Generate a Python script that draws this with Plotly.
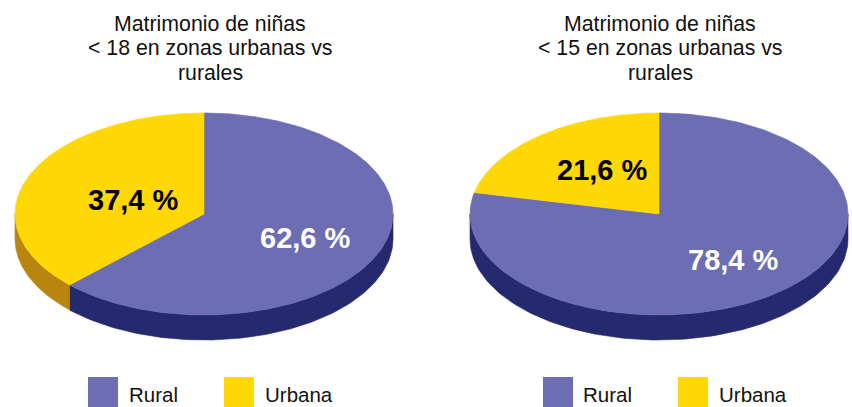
import numpy as np
import plotly.graph_objects as go

categories = ["Rural", "Urbana"]
values_18 = [62.6, 37.4]
values_15 = [78.4, 21.6]
labels_18 = ["62,6 %", "37,4 %"]
labels_15 = ["78,4 %", "21,6 %"]
title_18 = ["Matrimonio de niñas", "< 18 en zonas urbanas vs", "rurales"]
title_15 = ["Matrimonio de niñas", "< 15 en zonas urbanas vs", "rurales"]

TOP = {"Rural": "#6D6DB4", "Urbana": "#FFD805"}
SIDE = {"Rural": "#25296D", "Urbana": "#B8860F"}
LABEL = {"Rural": "white", "Urbana": "black"}
FONT = "Liberation Sans, Arial, sans-serif"
RX, RY, DEPTH, CY = 189, 101, 25, 214

fig = go.Figure()


def pt(cx, deg, dy=0.0):
    r = np.radians(deg)
    return cx + RX * np.sin(r), CY - RY * np.cos(r) + dy


def poly(xs, ys, color):
    fig.add_trace(go.Scatter(x=list(xs), y=list(ys), mode="lines", fill="toself",
                             fillcolor=color, line=dict(color=color, width=0.6),
                             hoverinfo="skip", showlegend=False))


def pie(cx, values, labels, title, label_pos, legend_x, legend_text_x, title_x):
    start = 0.0
    slices = []
    for cat, v in zip(categories, values):
        slices.append((cat, start, start + v * 3.6))
        start += v * 3.6
    # visible side wall (front half of the disc)
    for cat, a, b in slices:
        lo, hi = max(a, 90), min(b, 270)
        if hi > lo:
            t = np.linspace(lo, hi, 120)
            x, y = pt(cx, t)
            poly(np.r_[x, x[::-1], x[0]], np.r_[y, (y + DEPTH)[::-1], y[0]], SIDE[cat])
    # top face
    for cat, a, b in slices:
        t = np.linspace(a, b, 240)
        x, y = pt(cx, t)
        poly(np.r_[cx, x, cx], np.r_[CY, y, CY], TOP[cat])
    for lab, cat, (lx, ly) in zip(labels, categories, label_pos):
        fig.add_annotation(x=lx, y=ly, text=f"<b>{lab}</b>", showarrow=False,
                           font=dict(family=FONT, size=29, color=LABEL[cat]))
    for line, ty in zip(title, [23.5, 48, 73]):
        fig.add_annotation(x=title_x, y=ty, text=line, showarrow=False,
                           font=dict(family=FONT, size=21.3, color="#111111"))
    for cat, mx, tx in zip(categories, legend_x, legend_text_x):
        fig.add_trace(go.Scatter(x=[mx], y=[392], mode="markers",
                                 marker=dict(symbol="square", size=30, color=TOP[cat], line=dict(width=0)),
                                 hoverinfo="skip", showlegend=False, cliponaxis=False))
        fig.add_annotation(x=tx, y=394, text=cat, showarrow=False, xanchor="left",
                           font=dict(family=FONT, size=20.5, color="#111111"))


pie(204, values_18, labels_18, title_18, [(305, 238), (133, 200)], [103, 239], [127, 263], 210)
pie(659, values_15, labels_15, title_15, [(733, 260), (602, 170)], [558, 693], [581, 717], 660)

fig.update_layout(
    width=852, height=407, margin=dict(l=0, r=0, t=0, b=0),
    paper_bgcolor="white", plot_bgcolor="white",
    xaxis=dict(range=[0, 852], visible=False, fixedrange=True),
    yaxis=dict(range=[407, 0], visible=False, fixedrange=True),
)
fig.write_html("out.html", config={"displayModeBar": False},
               post_script="document.body.style.margin='0';document.documentElement.style.overflow='hidden';")
